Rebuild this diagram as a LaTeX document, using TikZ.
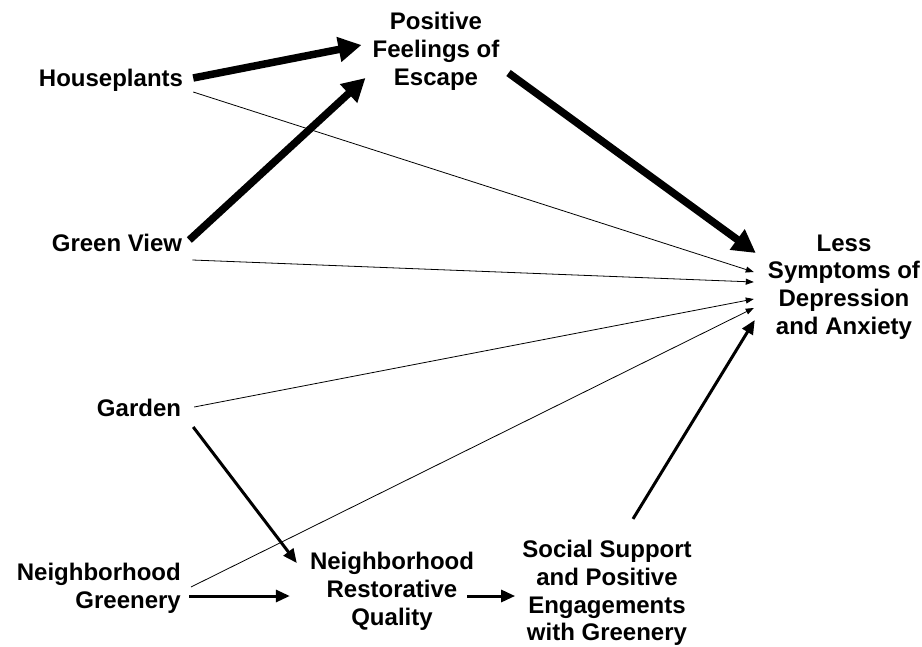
\documentclass[tikz,border=0pt]{standalone}
\usepackage{fontspec}
\setmainfont{Liberation Sans}
\usepackage{tikz}
\usetikzlibrary{arrows.meta, positioning, calc}

\tikzset{
    lbl/.style={inner sep=0pt, align=center, font=\bfseries\fontsize{24}{27.8}\selectfont},
    bigarr/.style={line width=7.5pt, -{Triangle[length=23pt, width=24pt]}},
    midarr/.style={line width=3pt, -{Triangle[length=14pt, width=12pt]}},
    thinarr/.style={line width=0.8pt, -{Triangle[length=8pt, width=6pt]}}
}

\begin{document}
\begin{tikzpicture}[x=1pt, y=-1pt]
    \useasboundingbox (0, 0) rectangle (922, 646);

    % 变量
    \node[lbl] (house) at (111, 80) {Houseplants};
    \node[lbl] (view) at (117, 243) {Green View};
    \node[lbl] (garden) at (139, 408) {Garden};
    \node[lbl, align=right, anchor=east] (greenery) at (181, 588) {Neighborhood\\Greenery};
    \node[lbl] (escape) at (436, 51) {Positive\\Feelings of\\Escape};
    \node[lbl] (less) at (844, 287) {Less\\Symptoms of\\Depression\\and Anxiety};
    \node[lbl] (restore) at (392, 591) {Neighborhood\\Restorative\\Quality};
    \node[lbl] (social) at (607, 593) {Social Support\\and Positive\\Engagements\\with Greenery};

    % 粗箭头
    \draw[bigarr] ($(house.east)+(10,-2)$) -- ($(escape.west)+(-11,-6)$);
    \draw[bigarr] ($(view.east)+(7,-3)$) -- ($(escape.west)+(-7,27)$);
    \draw[bigarr] ($(escape.east)+(9,22)$) -- ($(less.west)+(-12,-34)$);

    % 细箭头
    \draw[thinarr] ($(house.east)+(10,12)$) -- ($(less.west)+(-14,-15)$);
    \draw[thinarr] ($(view.east)+(10,17)$) -- ($(less.west)+(-14,-5)$);
    \draw[thinarr] ($(garden.east)+(13,-1)$) -- ($(less.west)+(-14,12)$);
    \draw[thinarr] ($(greenery.east)+(10,-1)$) -- ($(less.west)+(-14,21)$);

    % 中间路径
    \draw[midarr] ($(garden.east)+(12,19)$) -- ($(restore.west)+(-13,-28)$);
    \draw[midarr] ($(greenery.east)+(8,8)$) -- ($(restore.west)+(-20,5)$);
    \draw[midarr] ($(restore.east)+(-7,5)$) -- ($(social.west)+(-7,3)$);
    \draw[midarr] ($(social.north)+(26,-21)$) -- ($(less.west)+(-13,33)$);
\end{tikzpicture}
\end{document}
